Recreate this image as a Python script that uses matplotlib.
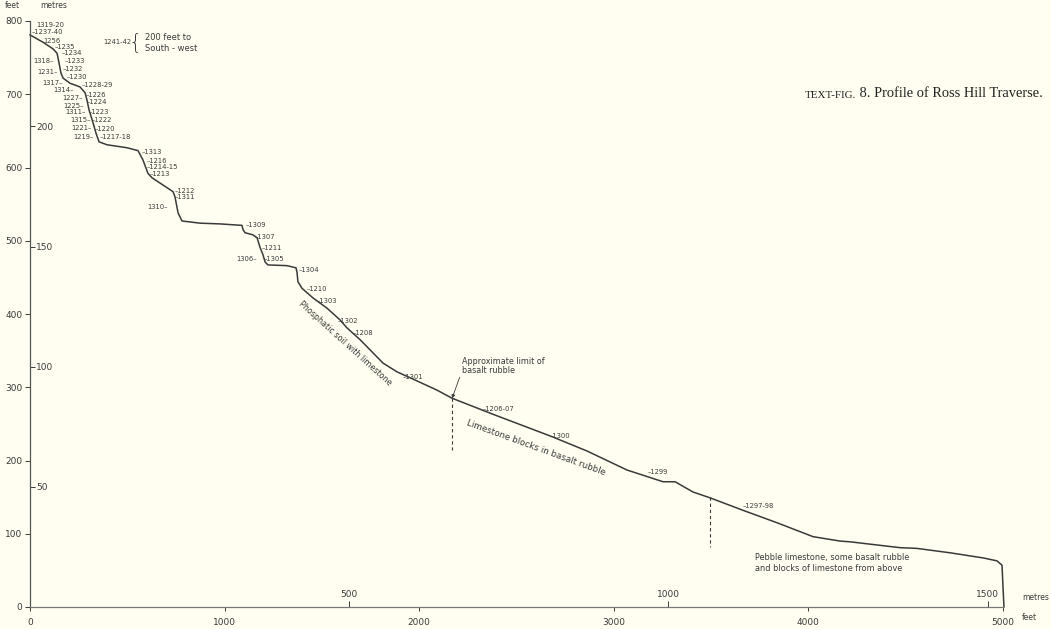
import matplotlib
matplotlib.use("Agg")
import matplotlib.pyplot as plt
import numpy as np

# profile of the traverse: horizontal distance (feet) and height (feet)
dist_ft = [0, 67, 118, 139, 149, 159, 170, 206, 257, 283, 293, 303, 324, 339,
           355, 396, 498, 555, 581, 606, 627, 735, 745, 761, 781, 874, 976,
           1089, 1095, 1105, 1146, 1167, 1182, 1197, 1208, 1223, 1321, 1367,
           1372, 1377, 1398, 1454, 1526, 1593, 1629, 1696, 1814, 1886, 1953,
           2092, 2169, 2390, 2688, 2724, 2862, 3068, 3253, 3315, 3407, 3495,
           3664, 3839, 4024, 4163, 4214, 4471, 4558, 4728, 4898, 4969, 4995,
           5000, 5005]
height_ft = [781, 771, 762, 756, 743, 729, 722, 715, 710, 702, 692, 679, 661,
             647, 635, 631, 627, 623, 610, 592, 586, 567, 560, 538, 527, 524,
             523, 521, 515, 511, 508, 504, 491, 481, 471, 467, 466, 463, 457,
             444, 435, 422, 408, 392, 381, 365, 333, 321, 313, 296, 285, 262,
             232, 228, 213, 187, 171, 171, 157, 149, 132, 115, 96, 90, 89, 81,
             80, 74, 67, 63, 57, 27, 0]

feet_x_ticks = [0, 1000, 2000, 3000, 4000, 5000]
feet_y_ticks = [0, 100, 200, 300, 400, 500, 600, 700, 800]
metre_x_ticks = [500, 1000, 1500]
metre_y_ticks = [50, 100, 150, 200]

# station numbers: (label, distance ft, height ft, side of leader dash)
stations = [
    ("1319-20", 31, 795, ""), ("1237-40", 10, 785, "r"), ("1256", 67, 773, ""),
    ("1235", 128, 765, "r"), ("1234", 164, 756, "r"), ("1318", 15, 745, "l"),
    ("1233", 180, 745, "r"), ("1232", 170, 734, "r"), ("1231", 36, 730, "l"),
    ("1230", 190, 724, "r"), ("1317", 62, 715, "l"), ("1228-29", 267, 713, "r"),
    ("1314", 118, 706, "l"), ("1226", 288, 699, "r"), ("1227", 164, 695, "l"),
    ("1224", 293, 690, "r"), ("1225", 170, 684, "l"), ("1311", 180, 676, "l"),
    ("1223", 303, 676, "r"), ("1315", 206, 665, "l"), ("1222", 319, 665, "r"),
    ("1221", 211, 654, "l"), ("1220", 334, 653, "r"), ("1219", 221, 642, "l"),
    ("1217-18", 360, 642, "r"), ("1313", 576, 621, "r"), ("1216", 601, 609, "r"),
    ("1214-15", 601, 601, "r"), ("1213", 617, 591, "r"), ("1212", 745, 568, "r"),
    ("1311", 745, 560, "r"), ("1310", 601, 546, "l"), ("1309", 1110, 522, "r"),
    ("1307", 1156, 505, "r"), ("1211", 1192, 490, "r"), ("1306", 1059, 475, "l"),
    ("1305", 1203, 475, "r"), ("1304", 1382, 460, "r"), ("1210", 1424, 434, "r"),
    ("1303", 1475, 418, "r"), ("1302", 1583, 390, "r"), ("1208", 1660, 374, "r"),
    ("1301", 1917, 314, "r"), ("1206-07", 2328, 270, "r"), ("1300", 2672, 233, "r"),
    ("1299", 3176, 184, "r"), ("1297-98", 3664, 138, "r"),
]

# limits of the basalt rubble (distance ft, top ft, bottom ft)
limit_lines = [(2169, 285, 215), (3494, 150, 82)]

ink = "#3a3a3a"
paper = "#fffef0"


def ft2m(v):
    return np.asarray(v) * 0.3048


def m2ft(v):
    return np.asarray(v) / 0.3048


fig = plt.figure(figsize=(10.51, 6.29), dpi=100, facecolor=paper)
ax = fig.add_axes([30 / 1051, 22 / 629, 973 / 1051, 586 / 629])
ax.set_facecolor(paper)

ax.plot(dist_ft, height_ft, color=ink, lw=1.1, clip_on=False,
        solid_joinstyle="round")
for x, top, bottom in limit_lines:
    ax.plot([x, x], [top, bottom], color=ink, lw=0.8, dashes=(3, 2.5))

ax.set_xlim(0, 5000)
ax.set_ylim(0, 800)
for side in ("top", "right"):
    ax.spines[side].set_visible(False)
ax.spines["left"].set_color("#555555")
ax.spines["bottom"].set_color("#777777")
ax.spines["left"].set_linewidth(0.9)
ax.spines["bottom"].set_linewidth(0.9)

ax.set_xticks(feet_x_ticks)
ax.set_yticks(feet_y_ticks)
ax.tick_params(axis="both", colors=ink, labelsize=6.5, width=0.7)
ax.tick_params(axis="x", length=3, pad=5)
ax.tick_params(axis="y", length=3.5, pad=2)

secx = ax.secondary_xaxis("bottom", functions=(ft2m, m2ft))
secx.set_alignment("top")
secx.set_xticks(metre_x_ticks)
secx.tick_params(colors=ink, labelsize=6.5, length=4, width=0.7, pad=2)
for sp in secx.spines.values():
    sp.set_visible(False)

secy = ax.secondary_yaxis("left", functions=(ft2m, m2ft))
secy.set_alignment("right")
secy.set_yticks(metre_y_ticks)
secy.tick_params(colors=ink, labelsize=6.5, length=3.5, width=0.7, pad=1)
for sp in secy.spines.values():
    sp.set_visible(False)

# station labels with short leader dashes
for name, x, y, side in stations:
    if side == "r":
        name = "\u2013" + name
    elif side == "l":
        name = name + "\u2013"
    ax.text(x, y, name, fontsize=4.9, color=ink, ha="left", va="center")

ax.text(375, 771, "1241-42", fontsize=4.9, color=ink, ha="left", va="center")
ax.text(540, 771, "{", fontsize=15, color=ink, ha="center", va="center",
        fontweight="light")
ax.text(590, 777, "200 feet to", fontsize=6, color=ink, ha="left", va="center")
ax.text(590, 763, "South - west", fontsize=6, color=ink, ha="left", va="center")

ax.annotate("Approximate limit of\nbasalt rubble", xy=(2169, 285),
            xytext=(2222, 329), fontsize=5.8, color=ink, ha="left",
            va="center", linespacing=1.1,
            arrowprops=dict(arrowstyle="-|>", color=ink, lw=0.6,
                            mutation_scale=5, shrinkA=0, shrinkB=0,
                            relpos=(0, 0.3)))

ax.text(1619, 360, "Phosphatic soil with limestone", fontsize=5.8, color=ink,
        rotation=-42, rotation_mode="anchor", ha="center", va="center")
ax.text(2600, 218, "Limestone blocks in basalt rubble", fontsize=6.3,
        color=ink, rotation=-20, rotation_mode="anchor", ha="center",
        va="center")
ax.text(3726, 60, "Pebble limestone, some basalt rubble\n"
        "and blocks of limestone from above", fontsize=5.9, color=ink,
        ha="left", va="center", linespacing=1.3)

# unit captions
fig.text(5 / 1051, 1 - 6 / 629, "feet", fontsize=5.5, color=ink, va="center")
fig.text(40 / 1051, 1 - 6 / 629, "metres", fontsize=5.5, color=ink, va="center")
fig.text(1022 / 1051, 1 - 597 / 629, "metres", fontsize=5.5, color=ink,
         va="center")
fig.text(1022 / 1051, 1 - 618 / 629, "feet", fontsize=5.5, color=ink,
         va="center")

t1 = fig.text(805 / 1051, 1 - 98 / 629, "TEXT-FIG.", fontsize=7.9,
              family="Liberation Serif", color="#222222", va="baseline")
fig.canvas.draw()
ax.annotate(" 8. Profile of Ross Hill Traverse.", xy=(1, 0), xycoords=t1,
            fontsize=10.4, family="Liberation Serif", color="#222222",
            va="bottom", ha="left", annotation_clip=False)

fig.savefig("out.png", dpi=100, facecolor=paper)
